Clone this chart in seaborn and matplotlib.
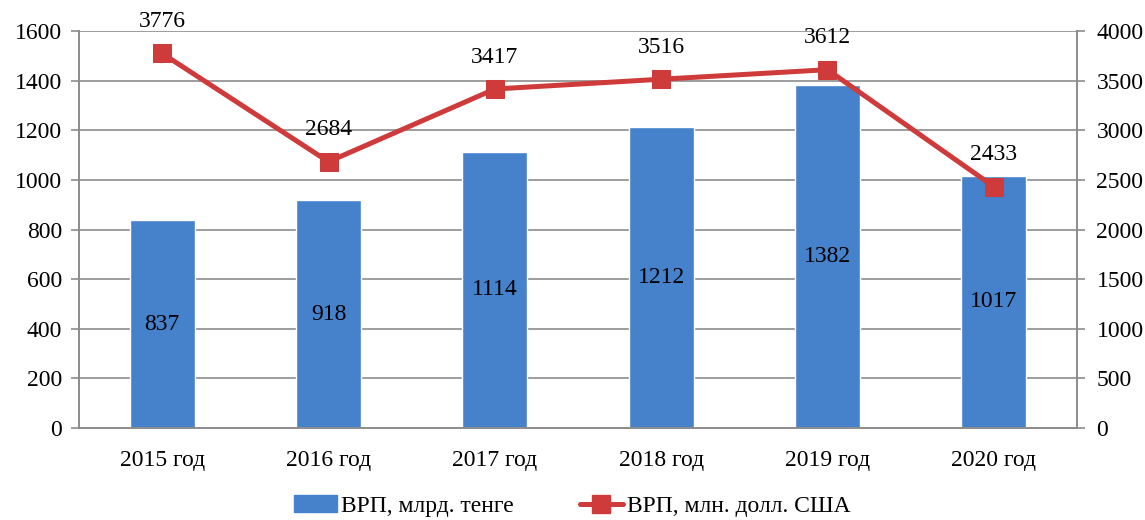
import pandas as pd
import seaborn as sns
import matplotlib.pyplot as plt
from matplotlib.lines import Line2D
from matplotlib.patches import Patch

# Chart data
years = ["2015 год", "2016 год", "2017 год", "2018 год", "2019 год", "2020 год"]
grp_tenge = [837, 918, 1114, 1212, 1382, 1017]      # ВРП, млрд. тенге
grp_usd = [3776, 2684, 3417, 3516, 3612, 2433]      # ВРП, млн. долл. США

bar_color = "#4681CB"
line_color = "#CF3B3B"
grid_color = "#8C8C8C"
fs = 17

df = pd.DataFrame({"year": years, "tenge": grp_tenge, "usd": grp_usd})

sns.set_style("white")
plt.rcParams["font.family"] = ["Liberation Serif", "DejaVu Serif"]
plt.rcParams["text.color"] = "black"
plt.rcParams["xtick.color"] = "black"
plt.rcParams["ytick.color"] = "black"

fig = plt.figure(figsize=(11.45, 5.2), dpi=100)
ax = fig.add_axes([0.069, 0.177, 0.8716, 0.763])

sns.barplot(data=df, x="year", y="tenge", color=bar_color, width=0.39,
            saturation=1, ax=ax, zorder=2)
ax.set_ylim(0, 1600)
ax.set_yticks(range(0, 1601, 200))
ax.set_xlim(-0.5, len(years) - 0.5)
ax.yaxis.grid(True, color=grid_color, linewidth=1.2, zorder=0)
ax.set_axisbelow(True)
ax.set_xlabel("")
ax.set_ylabel("")

# bar value labels in the middle of each bar
for i, v in enumerate(grp_tenge):
    ax.text(i, v / 2, str(v), ha="center", va="center", fontsize=fs, zorder=5)

ax2 = ax.twinx()
sns.lineplot(data=df, x="year", y="usd", color=line_color, linewidth=3.6,
             marker="s", markersize=13, markeredgecolor=line_color,
             sort=False, ax=ax2, zorder=4)
ax2.set_ylim(0, 4000)
ax2.set_yticks(range(0, 4001, 500))
ax2.set_ylabel("")
ax2.set_xlabel("")

for i, v in enumerate(grp_usd):
    ax2.text(i, v + 320, str(v), ha="center", va="center", fontsize=fs, zorder=5)

for a in (ax, ax2):
    a.spines["top"].set_visible(False)
    for side in ("left", "right", "bottom"):
        a.spines[side].set_color(grid_color)
        a.spines[side].set_linewidth(1.2)
    a.tick_params(axis="both", labelsize=fs, direction="out", length=6,
                  color=grid_color, width=1.2, left=(a is ax), right=(a is ax2),
                  bottom=True)
ax.tick_params(axis="y", pad=6)
ax2.tick_params(axis="y", pad=8)

ax.set_xticks([i + 0.5 for i in range(len(years) - 1)], minor=True)
ax.tick_params(axis="x", which="major", length=0, pad=16)
ax.tick_params(axis="x", which="minor", length=6, color=grid_color, width=1.2)
ax2.tick_params(axis="x", length=0)

handles = [
    Patch(facecolor=bar_color, edgecolor=bar_color),
    Line2D([0], [0], color=line_color, linewidth=3.6, marker="s",
           markersize=13, markeredgecolor=line_color),
]
fig.legend(handles, ["ВРП, млрд. тенге", "ВРП, млн. долл. США"],
           loc="lower center", bbox_to_anchor=(0.5, -0.035), ncol=2,
           frameon=False, fontsize=fs, handlelength=1.8, columnspacing=2.8,
           handletextpad=0.2)

fig.savefig("out.png", dpi=100)
